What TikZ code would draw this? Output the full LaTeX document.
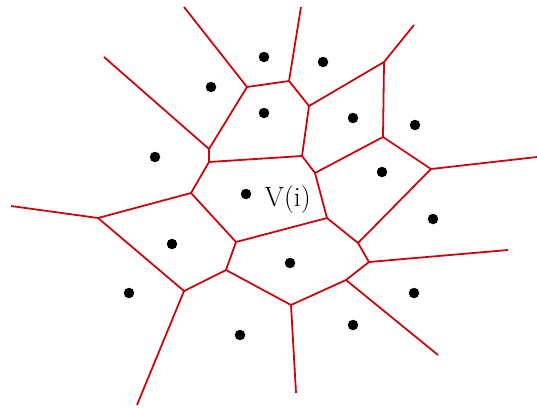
\documentclass[tikz,border=0pt]{standalone}
\usepackage{xcolor}
\usepackage{tikz}
\usetikzlibrary{positioning}
\definecolor{edgered}{RGB}{200,8,14}

\begin{document}
\begin{tikzpicture}[
  x=1pt, y=-1pt,
  site/.style={circle, fill=black, inner sep=0pt, minimum size=10.5pt},
  edge/.style={draw=edgered, line width=1.8pt, line join=round}
]
\useasboundingbox (0,0) rectangle (537,407);
% Voronoi vertices
\coordinate (a) at (247,87);
\coordinate (b) at (209,149);
\coordinate (c) at (209,162);
\coordinate (d) at (191,193);
\coordinate (e) at (289,81);
\coordinate (f) at (309,106);
\coordinate (g) at (384,62);
\coordinate (h) at (383,137);
\coordinate (i) at (302,156);
\coordinate (j) at (315,173);
\coordinate (k) at (431,169);
\coordinate (l) at (98,218);
\coordinate (m) at (184,291);
\coordinate (n) at (236,242);
\coordinate (o) at (226,270);
\coordinate (p) at (327,218);
\coordinate (q) at (358,243);
\coordinate (r) at (369,262);
\coordinate (s) at (346,280);
\coordinate (t) at (291,305);
% open ends
\coordinate (ea) at (184,7);
\coordinate (eb) at (104,57);
\coordinate (ee) at (301,7);
\coordinate (eg) at (414,25);
\coordinate (ek) at (537,157);
\coordinate (el) at (11,206);
\coordinate (em) at (137,405);
\coordinate (er) at (508,250);
\coordinate (es) at (438,355);
\coordinate (et) at (296,393);
% sites
\node[site] (s1) at (211,87) {};
\node[site] (s2) at (264,57) {};
\node[site] (s3) at (323,62) {};
\node[site] (s4) at (264,113) {};
\node[site] (s5) at (353,118) {};
\node[site] (s6) at (415,125) {};
\node[site] (s7) at (155,157) {};
\node[site] (s8) at (382,172) {};
\node[site] (vi) at (246,194) {};
\node[site] (s10) at (433,219) {};
\node[site] (s11) at (172,244) {};
\node[site] (s12) at (290,263) {};
\node[site] (s13) at (129,293) {};
\node[site] (s14) at (414,293) {};
\node[site] (s15) at (353,325) {};
\node[site] (s16) at (240,335) {};
\node[right=13pt of vi, yshift=-6pt, font=\fontsize{28}{32}\selectfont, inner sep=0pt] (vilabel) {V(i)};
% cell edges
\draw[edge] (ea) -- (a) -- (e) -- (ee);
\draw[edge] (eb) -- (b) -- (a);
\draw[edge] (e) -- (f) -- (g) -- (eg);
\draw[edge] (b) -- (c) -- (i) -- (f);
\draw[edge] (g) -- (h) -- (j) -- (i);
\draw[edge] (h) -- (k) -- (ek);
\draw[edge] (k) -- (q) -- (p) -- (j);
\draw[edge] (q) -- (r) -- (er);
\draw[edge] (r) -- (s) -- (es);
\draw[edge] (s) -- (t) -- (et);
\draw[edge] (t) -- (o) -- (n) -- (p);
\draw[edge] (n) -- (d) -- (c);
\draw[edge] (el) -- (l) -- (d);
\draw[edge] (l) -- (m) -- (o);
\draw[edge] (m) -- (em);
\end{tikzpicture}
\end{document}
